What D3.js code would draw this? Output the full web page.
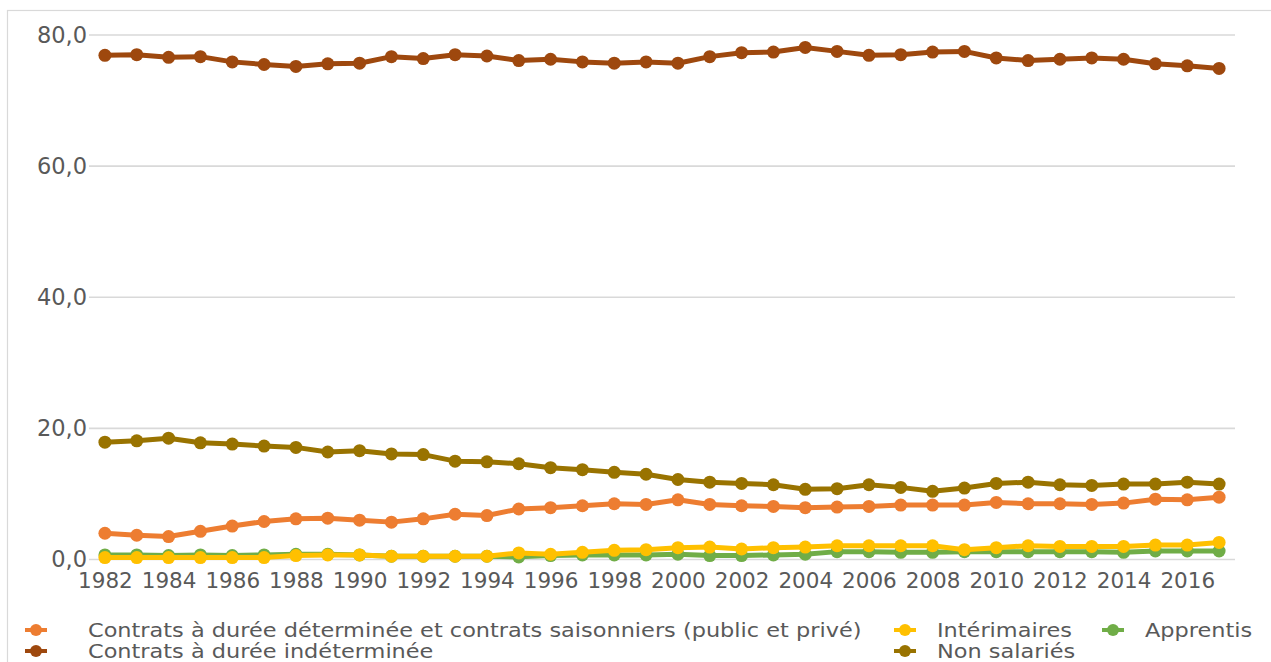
<!DOCTYPE html>
<html lang="fr">
<head>
<meta charset="utf-8">
<script src="https://cdn.jsdelivr.net/npm/d3@7"></script>
<style>
  html, body { margin: 0; padding: 0; background: #fff; }
  svg { display: block; }
  text { font-family: "DejaVu Sans", sans-serif; fill: #595959; }
</style>
</head>
<body>
<svg id="chart" width="1271" height="662"></svg>
<script>
// Années (axe des catégories)
const years = d3.range(1982, 2018);
const tickYears = d3.range(1982, 2017, 2);
const yTicks = [0, 20, 40, 60, 80];

// Part de chaque statut dans l'emploi (%)
const cdd = [4.0, 3.7, 3.5, 4.3, 5.1, 5.8, 6.2, 6.3, 6.0, 5.7, 6.2, 6.9, 6.7, 7.7, 7.9, 8.2,
  8.5, 8.4, 9.1, 8.4, 8.2, 8.1, 7.9, 8.0, 8.1, 8.3, 8.3, 8.3, 8.7, 8.5, 8.5, 8.4, 8.6, 9.2, 9.1, 9.5];
const interim = [0.3, 0.3, 0.3, 0.3, 0.3, 0.3, 0.6, 0.7, 0.7, 0.5, 0.5, 0.5, 0.5, 1.0, 0.8, 1.1,
  1.4, 1.5, 1.8, 1.9, 1.6, 1.8, 1.9, 2.1, 2.1, 2.1, 2.1, 1.5, 1.8, 2.1, 2.0, 2.0, 2.0, 2.2, 2.2, 2.6];
const apprentis = [0.7, 0.7, 0.6, 0.7, 0.6, 0.7, 0.8, 0.8, 0.7, 0.5, 0.5, 0.5, 0.5, 0.4, 0.6, 0.7,
  0.7, 0.7, 0.8, 0.6, 0.6, 0.7, 0.8, 1.2, 1.2, 1.1, 1.1, 1.2, 1.2, 1.2, 1.2, 1.2, 1.1, 1.3, 1.3, 1.3];
const cdi = [76.9, 77.0, 76.6, 76.7, 75.9, 75.5, 75.2, 75.6, 75.7, 76.7, 76.4, 77.0, 76.8, 76.1, 76.3, 75.9,
  75.7, 75.9, 75.7, 76.7, 77.3, 77.4, 78.1, 77.5, 76.9, 77.0, 77.4, 77.5, 76.5, 76.1, 76.3, 76.5, 76.3, 75.6, 75.3, 74.9];
const nonSalaries = [17.9, 18.1, 18.5, 17.8, 17.6, 17.3, 17.1, 16.4, 16.6, 16.1, 16.0, 15.0, 14.9, 14.6, 14.0, 13.7,
  13.3, 13.0, 12.2, 11.8, 11.6, 11.4, 10.7, 10.8, 11.4, 11.0, 10.4, 10.9, 11.6, 11.8, 11.4, 11.3, 11.5, 11.5, 11.8, 11.5];

const seriesNames = [
  "Contrats à durée déterminée et contrats saisonniers (public et privé)",
  "Intérimaires",
  "Apprentis",
  "Contrats à durée indéterminée",
  "Non salariés"
];
const seriesColors = ["#ED7D31", "#FFC000", "#70AD47", "#9E480E", "#997300"];
const seriesValues = [cdd, interim, apprentis, cdi, nonSalaries];

const series = seriesNames.map((name, i) => ({ name, color: seriesColors[i], values: seriesValues[i] }));
// Ordre de tracé : les apprentis passent sous les intérimaires
const drawOrder = [0, 2, 1, 3, 4];

const svg = d3.select("#chart");

// Cadre de la zone de graphique
svg.append("rect")
  .attr("x", 7.5).attr("y", 10.5)
  .attr("width", 1400).attr("height", 800)
  .attr("fill", "none").attr("stroke", "#D9D9D9").attr("stroke-width", 1.2);

const plot = { left: 89, right: 1235, top: 35, bottom: 559.5 };

const x = d3.scalePoint().domain(years).range([plot.left, plot.right]).padding(0.5);
const y = d3.scaleLinear().domain([0, 80]).range([plot.bottom, plot.top]);

// Quadrillage horizontal
svg.append("g")
  .selectAll("line")
  .data(yTicks)
  .join("line")
  .attr("x1", plot.left).attr("x2", plot.right)
  .attr("y1", d => y(d)).attr("y2", d => y(d))
  .attr("stroke", "#D9D9D9").attr("stroke-width", 1.6);

// Axe vertical (étiquettes seules)
const yAxis = d3.axisLeft(y).tickValues(yTicks).tickSize(0).tickPadding(0)
  .tickFormat(d => d3.format(".1f")(d).replace(".", ","));
const gy = svg.append("g").attr("transform", "translate(87,0)").call(yAxis);
gy.select(".domain").remove();
gy.selectAll("text").attr("font-size", 22.5).attr("font-family", "DejaVu Sans").attr("fill", "#595959");

// Axe horizontal (étiquettes une année sur deux)
const xAxis = d3.axisBottom(x).tickValues(tickYears).tickSize(0).tickPadding(0).tickFormat(d => String(d));
const gx = svg.append("g").attr("transform", `translate(0,${plot.bottom + 13.5})`).call(xAxis);
gx.select(".domain").remove();
gx.selectAll("text").attr("font-size", 21.5).attr("font-family", "DejaVu Sans").attr("fill", "#595959");

// Courbes et marqueurs
const line = d3.line().x((d, i) => x(years[i])).y(d => y(d));
const gSeries = svg.append("g");
drawOrder.forEach(k => {
  const s = series[k];
  const g = gSeries.append("g");
  g.append("path")
    .attr("d", line(s.values))
    .attr("fill", "none")
    .attr("stroke", s.color)
    .attr("stroke-width", 5)
    .attr("stroke-linejoin", "round");
  g.selectAll("circle")
    .data(s.values)
    .join("circle")
    .attr("cx", (d, i) => x(years[i]))
    .attr("cy", d => y(d))
    .attr("r", 6.5)
    .attr("fill", s.color);
});

// Légende sur deux lignes (texte légèrement élargi)
const legendFont = 19;
const legendStretch = 1.18;
const legendPos = [
  { mx: 36, tx: 88, y: 630 },
  { mx: 905, tx: 937, y: 630 },
  { mx: 1113, tx: 1145, y: 630 },
  { mx: 36, tx: 88, y: 651 },
  { mx: 905, tx: 937, y: 651 }
];
const legend = svg.append("g");
series.forEach((s, i) => {
  const p = legendPos[i];
  const g = legend.append("g");
  g.append("line")
    .attr("x1", p.mx - 11).attr("x2", p.mx + 11)
    .attr("y1", p.y).attr("y2", p.y)
    .attr("stroke", s.color).attr("stroke-width", 4);
  g.append("circle").attr("cx", p.mx).attr("cy", p.y).attr("r", 6).attr("fill", s.color);
  const t = g.append("text")
    .attr("x", p.tx).attr("y", p.y + 6.5)
    .attr("font-size", legendFont)
    .text(s.name);
  const w = t.node().getComputedTextLength();
  t.attr("textLength", w * legendStretch).attr("lengthAdjust", "spacingAndGlyphs");
});
</script>
</body>
</html>
